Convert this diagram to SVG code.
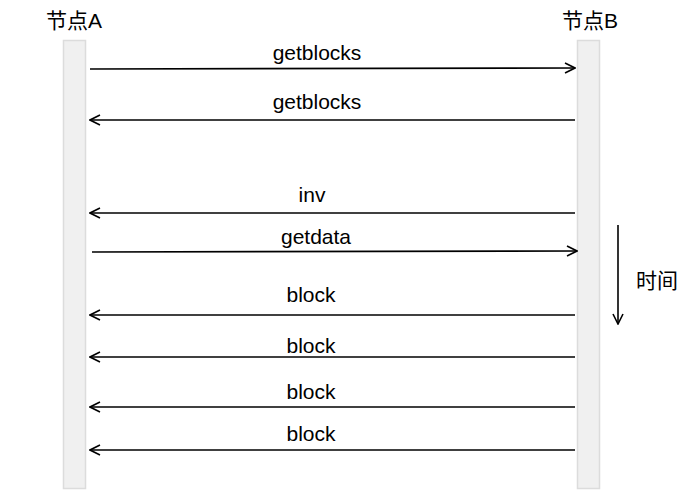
<svg xmlns="http://www.w3.org/2000/svg" width="690" height="490" viewBox="0 0 690 490">
  <style>
    .lane { fill: #f0f0f0; stroke: #dcdcdc; stroke-width: 1.5; }
    .msg { stroke: #000; stroke-width: 1.6; fill: none; marker-end: url(#open); }
    .lbl { font-family: "Liberation Sans", Arial, "Noto Sans CJK SC", sans-serif; font-size: 21px; fill: #000; }
  </style>
  <defs>
    <marker id="open" viewBox="0 0 12 12" refX="11" refY="6" markerWidth="12" markerHeight="12" markerUnits="userSpaceOnUse" orient="auto">
      <path d="M1,1 L11,6 L1,11" fill="none" stroke="#000" stroke-width="1.6"/>
    </marker>
  </defs>
  <rect width="690" height="490" fill="#fff"/>

  <g id="nodeA">
    <rect class="lane" x="63.5" y="40.5" width="22" height="448"/>
    <text class="lbl" x="74" y="28" text-anchor="middle">节点A</text>
  </g>
  <g id="nodeB">
    <rect class="lane" x="577.5" y="40.5" width="22" height="448"/>
    <text class="lbl" x="590" y="28" text-anchor="middle">节点B</text>
  </g>

  <g id="connectors">
    <line class="msg" x1="90" y1="69" x2="575" y2="68"/>
    <line class="msg" x1="575" y1="120" x2="90" y2="120"/>
    <line class="msg" x1="575" y1="213" x2="90" y2="213"/>
    <line class="msg" x1="92" y1="252" x2="577" y2="251"/>
    <line class="msg" x1="575" y1="315" x2="90" y2="315"/>
    <line class="msg" x1="575" y1="357" x2="90" y2="357"/>
    <line class="msg" x1="575" y1="407" x2="90" y2="407"/>
    <line class="msg" x1="575" y1="450" x2="90" y2="450"/>
    <line class="msg" x1="618" y1="225" x2="618" y2="324"/>
  </g>

  <g id="labels">
    <text class="lbl" x="317" y="60" text-anchor="middle">getblocks</text>
    <text class="lbl" x="317" y="109" text-anchor="middle">getblocks</text>
    <text class="lbl" x="312" y="202" text-anchor="middle">inv</text>
    <text class="lbl" x="316" y="244" text-anchor="middle">getdata</text>
    <text class="lbl" x="311" y="302" text-anchor="middle">block</text>
    <text class="lbl" x="311" y="353" text-anchor="middle">block</text>
    <text class="lbl" x="311" y="399" text-anchor="middle">block</text>
    <text class="lbl" x="311" y="441" text-anchor="middle">block</text>
    <text class="lbl" x="657" y="288" text-anchor="middle">时间</text>
  </g>
</svg>
